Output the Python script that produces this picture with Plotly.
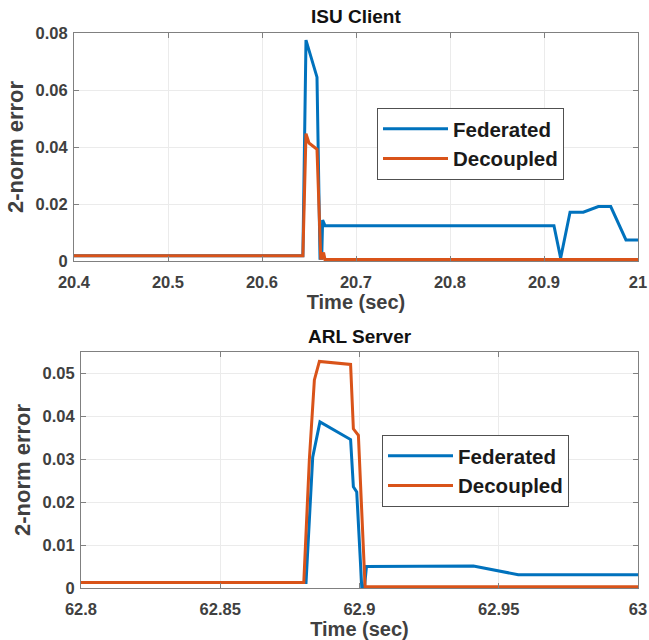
import plotly.graph_objects as go

# ---- Data: ISU Client (top) ----
t_isu_fed = [20.4, 20.6435, 20.6468, 20.6585, 20.6617, 20.6635, 20.6645, 20.667, 20.9106,
             20.9177, 20.9277, 20.9418, 20.9578, 20.971, 20.9872, 21.0]
e_isu_fed = [0.0018, 0.0018, 0.0775, 0.0645, 0.0010, 0.0010, 0.0144, 0.0124, 0.0124,
             0.0010, 0.0171, 0.0171, 0.0191, 0.0191, 0.0074, 0.0074]
t_isu_dec = [20.4, 20.6435, 20.6468, 20.6500, 20.6585, 20.6625, 20.6640, 20.6655, 20.667, 21.0]
e_isu_dec = [0.0018, 0.0018, 0.0447, 0.0414, 0.0392, 0.0010, 0.0010, 0.0030, 0.0005, 0.0005]

# ---- Data: ARL Server (bottom) ----
t_arl_fed = [62.8, 62.8808, 62.8832, 62.8858, 62.8968, 62.8978, 62.8990, 62.9008, 62.9018,
             62.9025, 62.9409, 62.9570, 63.0]
e_arl_fed = [0.0013, 0.0013, 0.0305, 0.0387, 0.0346, 0.0236, 0.0224, 0.0003, 0.0003,
             0.0050, 0.0051, 0.0031, 0.0031]
t_arl_dec = [62.8, 62.8800, 62.8820, 62.8838, 62.8856, 62.8968, 62.8978, 62.8996, 62.9020, 63.0]
e_arl_dec = [0.0013, 0.0013, 0.0300, 0.0485, 0.0528, 0.0521, 0.0371, 0.0356, 0.0003, 0.0003]

series_names = ["Federated", "Decoupled"]
colors = ["#0072BD", "#D95319"]

isu_xticks = [20.4, 20.5, 20.6, 20.7, 20.8, 20.9, 21.0]
isu_xlabels = ["20.4", "20.5", "20.6", "20.7", "20.8", "20.9", "21"]
isu_yticks = [0, 0.02, 0.04, 0.06, 0.08]
isu_ylabels = ["0", "0.02", "0.04", "0.06", "0.08"]
arl_xticks = [62.8, 62.85, 62.9, 62.95, 63.0]
arl_xlabels = ["62.8", "62.85", "62.9", "62.95", "63"]
arl_yticks = [0, 0.01, 0.02, 0.03, 0.04, 0.05]
arl_ylabels = ["0", "0.01", "0.02", "0.03", "0.04", "0.05"]

FONT = "Liberation Sans, Arial, sans-serif"
TXT = "#404040"

fig = go.Figure()
fig.add_trace(go.Scatter(x=t_isu_fed, y=e_isu_fed, mode="lines", name=series_names[0],
                         line=dict(color=colors[0], width=3), xaxis="x", yaxis="y", legend="legend"))
fig.add_trace(go.Scatter(x=t_isu_dec, y=e_isu_dec, mode="lines", name=series_names[1],
                         line=dict(color=colors[1], width=3), xaxis="x", yaxis="y", legend="legend"))
fig.add_trace(go.Scatter(x=t_arl_fed, y=e_arl_fed, mode="lines", name=series_names[0],
                         line=dict(color=colors[0], width=3), xaxis="x2", yaxis="y2", legend="legend2"))
fig.add_trace(go.Scatter(x=t_arl_dec, y=e_arl_dec, mode="lines", name=series_names[1],
                         line=dict(color=colors[1], width=3), xaxis="x2", yaxis="y2", legend="legend2"))

W, H = 649, 640

def ax(**kw):
    d = dict(showline=True, linecolor="#808080", linewidth=1, mirror="ticks",
             ticks="inside", ticklen=5, tickcolor="#808080", automargin=False,
             showgrid=True, gridcolor="#ebebeb", gridwidth=1, zeroline=False,
             tickfont=dict(family=FONT, size=16.5, color=TXT, weight="bold"))
    d.update(kw)
    return d

xtitle_font = dict(family=FONT, size=20, color=TXT, weight="bold")
ytitle_font = dict(family=FONT, size=22, color=TXT, weight="bold")
leg_font = dict(family=FONT, size=20.5, color="#1a1a1a", weight="bold")

fig.update_layout(
    width=W, height=H,
    margin=dict(l=0, r=0, t=0, b=0),
    paper_bgcolor="white", plot_bgcolor="white",
    xaxis=ax(domain=[74 / W, 638 / W], anchor="y", range=[20.4, 21.0],
             tickvals=isu_xticks, ticktext=isu_xlabels, ticklabelstandoff=6,
             title=dict(text="Time (sec)", font=xtitle_font, standoff=0)),
    yaxis=ax(domain=[(H - 261) / H, (H - 33) / H], anchor="x", range=[0, 0.08],
             tickvals=isu_yticks, ticktext=isu_ylabels, ticklabelstandoff=2,
             title=dict(text="2-norm error", font=ytitle_font, standoff=5)),
    xaxis2=ax(domain=[81 / W, 638 / W], anchor="y2", range=[62.8, 63.0],
              tickvals=arl_xticks, ticktext=arl_xlabels, ticklabelstandoff=6,
              title=dict(text="Time (sec)", font=xtitle_font, standoff=0)),
    yaxis2=ax(domain=[(H - 588) / H, (H - 352) / H], anchor="x2", range=[0, 0.055],
              tickvals=arl_yticks, ticktext=arl_ylabels, ticklabelstandoff=2,
              title=dict(text="2-norm error", font=ytitle_font, standoff=5)),
    legend=dict(x=377 / W, y=1 - 108 / H, xanchor="left", yanchor="top",
                bgcolor="white", bordercolor="#505050", borderwidth=1,
                font=leg_font, tracegroupgap=0, itemwidth=65,
                entrywidth=208, entrywidthmode="pixels"),
    legend2=dict(x=382 / W, y=1 - 435 / H, xanchor="left", yanchor="top",
                 bgcolor="white", bordercolor="#505050", borderwidth=1,
                 font=leg_font, tracegroupgap=0, itemwidth=65,
                 entrywidth=208, entrywidthmode="pixels"),
    annotations=[
        dict(text="ISU Client", x=(74 + 638) / 2 / W, y=1 - 16 / H, xref="paper", yref="paper",
             showarrow=False, xanchor="center", yanchor="middle",
             font=dict(family=FONT, size=19, color="#111111", weight="bold")),
        dict(text="ARL Server", x=(81 + 638) / 2 / W, y=1 - 336 / H, xref="paper", yref="paper",
             showarrow=False, xanchor="center", yanchor="middle",
             font=dict(family=FONT, size=19, color="#111111", weight="bold")),
    ],
)

fig.write_html("out.html", config={"displayModeBar": False},
               post_script="document.body.style.margin='0';document.body.style.padding='0';")
